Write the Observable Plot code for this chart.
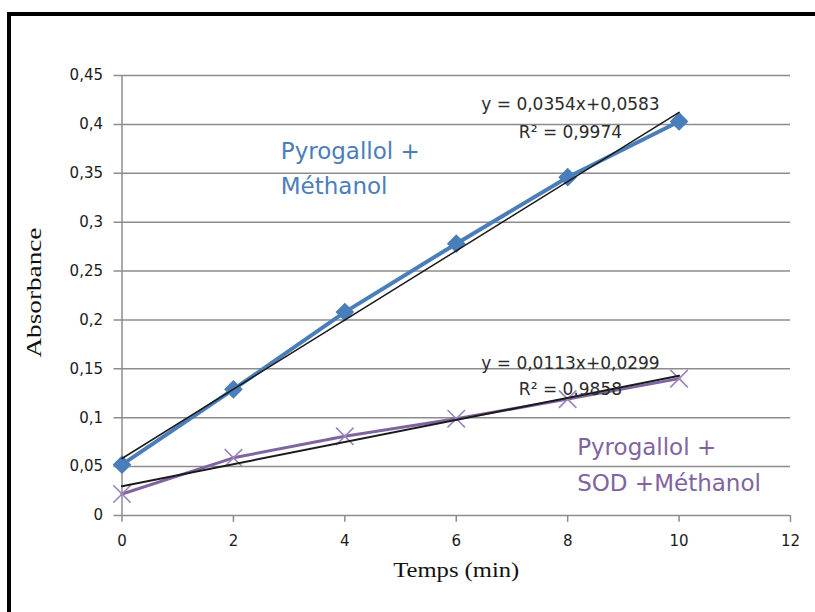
<!DOCTYPE html>
<html>
<head>
<meta charset="utf-8">
<script src="https://cdn.jsdelivr.net/npm/d3@7"></script>
<script src="https://cdn.jsdelivr.net/npm/@observablehq/plot@0.6"></script>
<style>
  html, body { margin: 0; padding: 0; background: white; overflow: hidden; }
  #wrap { position: relative; width: 815px; height: 612px; }
  #frame { position: absolute; left: 7px; top: 12px; width: 1000px; height: 1000px;
           border: 4px solid #000; pointer-events: none; z-index: 2; }
</style>
</head>
<body>
<div id="wrap"><div id="frame"></div></div>
<script>
// Data
const times = [0, 2, 4, 6, 8, 10];
const absMethanol = [0.052, 0.129, 0.208, 0.278, 0.346, 0.403];       // Pyrogallol + Méthanol
const absSOD = [0.022, 0.059, 0.081, 0.099, 0.119, 0.140];            // Pyrogallol + SOD + Méthanol
// Linear trendline endpoints (from displayed equations)
const trendX = [0, 10];
const trendMethanol = [0.0583, 0.4123];   // y = 0,0354x + 0,0583
const trendSOD = [0.0299, 0.1429];        // y = 0,0113x + 0,0299
const eqMethanol = ["y = 0,0354x+0,0583", "R² = 0,9974"];
const eqSOD = ["y = 0,0113x+0,0299", "R² = 0,9858"];
const xTicks = [0, 2, 4, 6, 8, 10, 12];
const yTicks = [0, 0.05, 0.1, 0.15, 0.2, 0.25, 0.3, 0.35, 0.4, 0.45];
const yTickLabels = ["0", "0,05", "0,1", "0,15", "0,2", "0,25", "0,3", "0,35", "0,4", "0,45"];

const blue = "#4a7ebb";
const purple = "#8064a2";
const grid = "#8c8c8c";

const serMeth = times.map((t, i) => ({x: t, y: absMethanol[i]}));
const serSOD = times.map((t, i) => ({x: t, y: absSOD[i]}));
const trMeth = trendX.map((t, i) => ({x: t, y: trendMethanol[i]}));
const trSOD = trendX.map((t, i) => ({x: t, y: trendSOD[i]}));

const sans = "DejaVu Sans, sans-serif";

const chart = Plot.plot({
  width: 815,
  height: 612,
  marginLeft: 121.5,
  marginRight: 25,
  marginTop: 75,
  marginBottom: 97,
  style: {background: "transparent", fontFamily: sans, fontSize: "15px"},
  x: {domain: [0, 12]},
  y: {domain: [0, 0.45]},
  marks: [
    Plot.ruleY(yTicks, {x1: -0.144, x2: 12, stroke: grid, strokeWidth: 1.5}),
    Plot.ruleX([0], {y1: 0, y2: 0.45, stroke: grid, strokeWidth: 1.5}),
    Plot.ruleX(xTicks, {x: d => d, y1: 0, y2: -0.007, stroke: grid, strokeWidth: 1.5}),
    Plot.axisX({ticks: xTicks, tickSize: 0, tickPadding: 20, label: null,
                fontSize: 15, fill: "#1a1a1a", tickFormat: d => String(d)}),
    Plot.axisY({ticks: yTicks, tickSize: 0, tickPadding: 19, label: null,
                fontSize: 15, fill: "#1a1a1a", tickFormat: (d, i) => yTickLabels[i]}),
    Plot.line(serMeth, {x: "x", y: "y", stroke: blue, strokeWidth: 4}),
    Plot.line(serSOD, {x: "x", y: "y", stroke: purple, strokeWidth: 3}),
    Plot.dot(serMeth, {x: "x", y: "y", symbol: "diamond2", r: 7.5, fill: blue, stroke: blue}),
    Plot.dot(serSOD, {x: "x", y: "y", symbol: "times", r: 8, stroke: "#9a84bd", strokeWidth: 1.6}),
    Plot.line(trMeth, {x: "x", y: "y", stroke: "#1a1a1a", strokeWidth: 1.5}),
    Plot.line(trSOD, {x: "x", y: "y", stroke: "#1a1a1a", strokeWidth: 2}),
    // Trendline equations
    Plot.text(eqMethanol, {x: 8.05, y: (d, i) => [0.4204, 0.3918][i], text: d => d,
      fontSize: 17, fill: "#2b2b2b"}),
    Plot.text(eqSOD, {x: 8.05, y: (d, i) => [0.1555, 0.1290][i], text: d => d,
      fontSize: 17, fill: "#2b2b2b"}),
    // Series labels
    Plot.text(["Pyrogallol +", "Méthanol"], {x: 2.85, y: (d, i) => [0.372, 0.336][i], text: d => d,
      textAnchor: "start", fontSize: 23, fill: blue}),
    Plot.text(["Pyrogallol +", "SOD +Méthanol"], {x: 8.17, y: (d, i) => [0.0695, 0.033][i], text: d => d,
      textAnchor: "start", fontSize: 23, fill: purple}),
    // Axis titles
    Plot.text(["Temps (min)"], {x: 6, y: -0.0565, text: d => d, fontSize: 20,
      fontFamily: "Liberation Serif, serif", fill: "#111"}),
    Plot.text(["Absorbance"], {x: -1.57, y: 0.228, text: d => d, fontSize: 20, rotate: -90,
      fontFamily: "Liberation Serif, serif", fill: "#111"})
  ]
});

document.getElementById("wrap").appendChild(chart);

// Stretch the serif titles horizontally like the reference
d3.select(chart).selectAll("text").each(function() {
  const t = this.textContent;
  if (t === "Temps (min)") { d3.select(this).attr("textLength", 126).attr("lengthAdjust", "spacingAndGlyphs"); }
  if (t === "Absorbance") { d3.select(this).attr("textLength", 130).attr("lengthAdjust", "spacingAndGlyphs"); }
});
</script>
</body>
</html>
